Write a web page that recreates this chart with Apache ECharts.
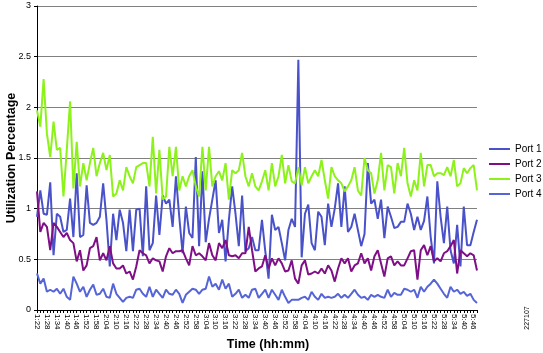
<!DOCTYPE html>
<html>
<head>
<meta charset="utf-8">
<script src="https://cdn.jsdelivr.net/npm/echarts@6/dist/echarts.min.js"></script>
<style>html,body{margin:0;padding:0;background:#fff}#c{width:543px;height:353px}</style>
</head>
<body>
<div id="c"></div>
<script>
// Categories: every 2 minutes from 1:22 to 5:48
const startMinutes = 82, stepMinutes = 2, pointCount = 134;
const categories = [];
for (let i = 0; i < pointCount; i++) {
  const m = startMinutes + i * stepMinutes;
  categories.push(Math.floor(m / 60) + ':' + String(m % 60).padStart(2, '0'));
}
const yTicks = ['0', '0.5', '1', '1.5', '2', '2.5', '3'];

const port1 = [
0.92,1.18,0.95,0.94,1.26,0.54,0.95,0.92,0.77,0.79,1.1,0.72,1.35,0.72,0.74,1.23,0.86,0.84,0.86,0.92,1.25,0.89,0.43,0.95,0.69,0.99,0.86,0.58,0.99,0.58,0.99,1.0,0.53,
1.22,0.59,0.66,1.13,0.74,1.13,1.05,1.09,0.82,1.32,0.92,0.56,1.02,0.76,0.71,1.51,0.63,1.37,0.67,0.90,1.09,1.28,0.76,0.89,0.48,0.89,1.22,0.95,0.63,1.13,0.58,0.61,0.72,0.59,
0.59,0.89,0.58,0.31,0.94,0.79,0.82,0.66,0.49,0.79,0.90,0.82,2.47,0.52,0.95,1.04,0.66,0.59,0.97,0.92,0.64,1.05,0.82,1.0,1.25,0.82,1.22,0.77,0.82,0.95,0.79,0.63,0.75,
1.45,1.05,1.09,0.90,1.09,0.71,1.02,0.92,0.81,0.82,0.87,0.87,1.05,0.95,0.79,0.92,0.79,0.88,1.12,0.72,0.46,1.27,0.92,0.66,1.02,0.59,0.46,0.84,0.43,1.02,0.64,0.64,0.77,0.89
];
const port2 = [
1.17,0.77,0.86,0.82,0.59,0.86,0.82,0.77,0.72,0.76,0.69,0.66,0.48,0.59,0.39,0.44,0.61,0.63,0.72,0.49,0.56,0.49,0.63,0.46,0.41,0.41,0.44,0.36,0.38,0.30,0.43,0.59,0.56,
0.54,0.46,0.51,0.49,0.48,0.38,0.53,0.61,0.56,0.58,0.58,0.59,0.51,0.44,0.63,0.54,0.56,0.53,0.49,0.66,0.54,0.49,0.66,0.61,0.69,0.54,0.53,0.54,0.51,0.56,0.56,0.82,0.59,0.38,
0.41,0.43,0.54,0.41,0.51,0.44,0.51,0.46,0.38,0.39,0.49,0.31,0.26,0.44,0.49,0.35,0.36,0.38,0.36,0.41,0.36,0.44,0.39,0.28,0.41,0.51,0.46,0.51,0.38,0.44,0.46,0.56,0.46,
0.51,0.39,0.53,0.59,0.46,0.33,0.51,0.53,0.44,0.48,0.44,0.44,0.51,0.58,0.59,0.30,0.59,0.64,0.54,0.63,0.48,0.51,0.48,0.56,0.58,0.63,0.69,0.36,0.59,0.56,0.53,0.56,0.54,0.39
];
const port3 = [
1.97,1.81,2.28,1.74,1.51,1.86,1.58,1.6,1.12,1.58,2.06,1.2,1.66,1.22,1.45,1.28,1.45,1.6,1.32,1.45,1.55,1.38,1.53,1.12,1.15,1.28,1.18,1.41,1.32,1.25,1.41,1.43,1.45,
1.45,1.22,1.71,1.15,1.58,1.09,1.12,1.61,1.32,1.61,1.18,1.32,1.22,1.32,1.38,1.22,1.12,1.61,1.18,1.61,1.22,1.32,1.37,1.28,1.45,1.09,1.38,1.35,1.38,1.55,1.32,1.22,1.35,1.22,
1.18,1.27,1.38,1.18,1.45,1.22,1.32,1.53,1.25,1.43,1.27,1.25,1.41,1.23,1.41,1.25,1.32,1.38,1.32,1.48,1.28,1.10,1.41,1.32,1.28,1.25,1.17,1.22,1.28,1.41,1.18,1.13,1.5,
1.38,1.35,1.15,1.28,1.55,1.18,1.43,1.41,1.15,1.45,1.32,1.6,1.25,1.12,1.28,1.18,1.55,1.22,1.43,1.43,1.32,1.35,1.35,1.33,1.41,1.32,1.48,1.22,1.25,1.4,1.35,1.4,1.43,1.18
];
const port4 = [
0.36,0.26,0.31,0.18,0.20,0.18,0.21,0.16,0.21,0.13,0.10,0.33,0.26,0.18,0.23,0.13,0.20,0.25,0.15,0.16,0.21,0.13,0.12,0.26,0.16,0.12,0.08,0.12,0.13,0.12,0.20,0.21,0.16,
0.13,0.23,0.13,0.20,0.16,0.12,0.20,0.16,0.15,0.20,0.16,0.07,0.15,0.18,0.21,0.20,0.16,0.20,0.21,0.33,0.23,0.26,0.20,0.30,0.21,0.26,0.13,0.16,0.20,0.12,0.15,0.12,0.20,0.21,
0.12,0.16,0.20,0.12,0.20,0.15,0.10,0.20,0.13,0.07,0.10,0.10,0.10,0.12,0.13,0.10,0.18,0.13,0.10,0.16,0.12,0.13,0.12,0.13,0.16,0.12,0.15,0.12,0.16,0.20,0.15,0.12,0.13,
0.10,0.15,0.13,0.15,0.13,0.12,0.20,0.13,0.17,0.15,0.15,0.21,0.20,0.18,0.20,0.12,0.23,0.18,0.23,0.26,0.30,0.26,0.21,0.16,0.12,0.23,0.18,0.20,0.16,0.18,0.14,0.16,0.10,0.07
];
const seriesNames = ['Port 1', 'Port 2', 'Port 3', 'Port 4'];
const seriesColors = ['#4a52c9', '#7f0f86', '#8cf21a', '#5564d6'];
const seriesData = [port1, port2, port3, port4];

const FONT = '"Liberation Sans", Arial, sans-serif';
const chart = echarts.init(document.getElementById('c'), null, {renderer: 'canvas'});
chart.setOption({
  animation: false,
  backgroundColor: '#ffffff',
  grid: {left: 37, right: 66, top: 6, bottom: 43, containLabel: false},
  legend: {
    orient: 'vertical', left: 489, top: 144, itemWidth: 21, itemHeight: 10, itemGap: 5,
    padding: 0,
    icon: 'path://M0,4 L21,4 L21,6 L0,6 Z',
    textStyle: {fontFamily: FONT, fontSize: 10, color: '#000'},
    data: seriesNames
  },
  xAxis: {
    type: 'category', data: categories, boundaryGap: false,
    axisLine: {lineStyle: {color: '#000', width: 1}},
    axisTick: {interval: 0, length: 3, lineStyle: {color: '#000'}},
    axisLabel: {interval: 2, rotate: -90, fontFamily: FONT, fontSize: 8, color: '#000', margin: 4},
    splitLine: {show: false}
  },
  yAxis: {
    type: 'value', min: 0, max: 3, interval: 0.5,
    axisLine: {show: true, lineStyle: {color: '#000', width: 1}},
    axisTick: {show: true, length: 3, lineStyle: {color: '#000'}},
    axisLabel: {fontFamily: FONT, fontSize: 9, color: '#000', margin: 6,
      formatter: v => yTicks[Math.round(v / 0.5)]},
    splitLine: {show: true, lineStyle: {color: '#808080', width: 1}}
  },
  graphic: [
    {type: 'text', x: 12, y: 158, rotation: Math.PI / 2,
      style: {text: 'Utilization Percentage', font: 'bold 12.5px ' + FONT, fill: '#000',
        align: 'center', verticalAlign: 'middle'}},
    {type: 'text', x: 268, y: 345,
      style: {text: 'Time (hh:mm)', font: 'bold 12.5px ' + FONT, fill: '#000',
        align: 'center', verticalAlign: 'middle'}},
    {type: 'text', x: 527, y: 318, rotation: Math.PI / 2,
      style: {text: '227107', font: '7px ' + FONT, fill: '#000',
        align: 'center', verticalAlign: 'middle'}}
  ],
  series: seriesData.map((d, k) => ({
    name: seriesNames[k], type: 'line', data: d, showSymbol: false, symbol: 'none',
    lineStyle: {color: seriesColors[k], width: 2}, itemStyle: {color: seriesColors[k]}
  }))
});
</script>
</body>
</html>
